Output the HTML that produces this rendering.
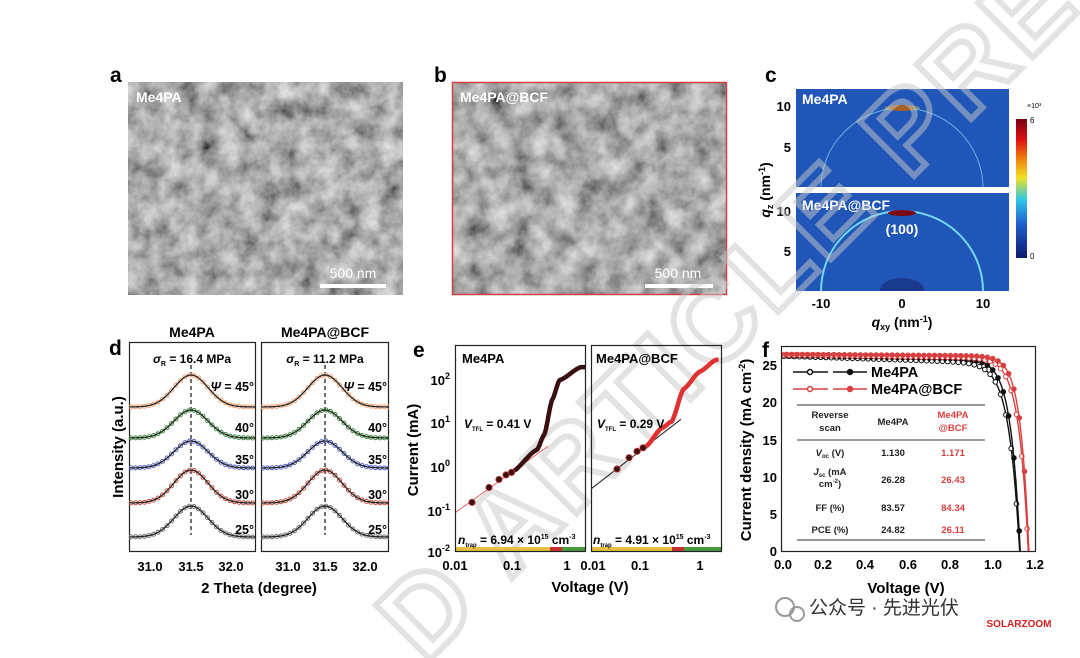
<!DOCTYPE html>
<html><head><meta charset="utf-8">
<style>
html,body{margin:0;padding:0;background:#fff;}
svg{display:block;font-family:"Liberation Sans",Arial,sans-serif;}
.b{font-weight:bold;}
</style></head>
<body>
<svg id="s" width="1080" height="658" viewBox="0 0 1080 658" xmlns="http://www.w3.org/2000/svg">
<defs>
<filter id="sem1" x="0" y="0" width="100%" height="100%">
<feTurbulence type="fractalNoise" baseFrequency="0.05" numOctaves="5" seed="4"/>
<feColorMatrix type="matrix" values="0.9 0 0 0 -0.03  0.9 0 0 0 -0.03  0.9 0 0 0 -0.03  0 0 0 0 1"/>
</filter>
<filter id="sem2" x="0" y="0" width="100%" height="100%">
<feTurbulence type="fractalNoise" baseFrequency="0.045" numOctaves="5" seed="9"/>
<feColorMatrix type="matrix" values="0.9 0 0 0 -0.04  0.9 0 0 0 -0.04  0.9 0 0 0 -0.04  0 0 0 0 1"/>
</filter>
<linearGradient id="cb" x1="0" y1="0" x2="0" y2="1">
<stop offset="0" stop-color="#7a0010"/><stop offset="0.15" stop-color="#e01010"/>
<stop offset="0.3" stop-color="#f08a10"/><stop offset="0.42" stop-color="#f0e020"/>
<stop offset="0.58" stop-color="#30c8e8"/><stop offset="0.75" stop-color="#2060d0"/>
<stop offset="1" stop-color="#101a70"/>
</linearGradient>
<clipPath id="cd1"><rect x="129" y="342" width="127" height="210"/></clipPath>
<clipPath id="cd2"><rect x="261" y="342" width="128" height="210"/></clipPath>
<clipPath id="ce1"><rect x="455" y="345" width="131" height="207"/></clipPath>
<clipPath id="ce2"><rect x="591" y="345" width="131" height="207"/></clipPath>
<clipPath id="cf"><rect x="781" y="340" width="255" height="211"/></clipPath>
<clipPath id="cc1"><rect x="796" y="89" width="213" height="98"/></clipPath>
<clipPath id="cc2"><rect x="796" y="193" width="213" height="98"/></clipPath>
</defs>

<!-- panel a -->
<text x="110" y="82" font-size="21" class="b">a</text>
<rect x="128" y="82" width="275" height="213" fill="#6a6a6a" filter="url(#sem1)"/>
<text x="136" y="102" font-size="14" class="b" fill="#fff">Me4PA</text>
<line x1="320" y1="286" x2="386" y2="286" stroke="#fff" stroke-width="4"/>
<text x="353" y="278" font-size="14" fill="#fff" text-anchor="middle">500 nm</text>

<!-- panel b -->
<text x="434" y="82" font-size="21" class="b">b</text>
<rect x="452" y="82" width="275" height="213" fill="#6a6a6a" filter="url(#sem2)"/>
<rect x="452.5" y="82.5" width="274" height="212" fill="none" stroke="#d04040" stroke-width="1.5"/>
<text x="460" y="102" font-size="14" class="b" fill="#fff">Me4PA@BCF</text>
<line x1="645" y1="286" x2="713" y2="286" stroke="#fff" stroke-width="4"/>
<text x="678" y="278" font-size="14" fill="#fff" text-anchor="middle">500 nm</text>

<!-- panel c -->
<text x="765" y="82" font-size="21" class="b">c</text>
<rect x="796" y="89" width="213" height="98" fill="#2056b8"/>
<rect x="796" y="193" width="213" height="98" fill="#2056b8"/>
<g clip-path="url(#cc1)">
<ellipse cx="902" cy="188" rx="81" ry="80" fill="none" stroke="#7fc8f0" stroke-width="1" opacity="0.8"/>
<ellipse cx="902" cy="108" rx="13" ry="3" fill="#7a0a10"/>
<ellipse cx="902" cy="108" rx="18" ry="3" fill="#e8e040" opacity="0.4"/>
</g>
<g clip-path="url(#cc2)">
<ellipse cx="902" cy="291" rx="81" ry="80" fill="none" stroke="#70d8f0" stroke-width="2"/>
<ellipse cx="902" cy="213" rx="14" ry="3" fill="#7a0a10"/>
<ellipse cx="902" cy="290" rx="22" ry="12" fill="#1a3a90"/>
</g>
<text x="802" y="104" font-size="14" class="b" fill="#fff">Me4PA</text>
<text x="802" y="210" font-size="14" class="b" fill="#fff">Me4PA@BCF</text>
<text x="902" y="234" font-size="14" class="b" fill="#fff" text-anchor="middle">(100)</text>
<g font-size="13" class="b" text-anchor="end">
<text x="791" y="111">10</text><text x="791" y="152">5</text>
<text x="791" y="216">10</text><text x="791" y="256">5</text>
</g>
<g font-size="13" class="b" text-anchor="middle">
<text x="821" y="308">-10</text><text x="902" y="308">0</text><text x="983" y="308">10</text>
</g>
<text x="902" y="327" font-size="14" class="b" text-anchor="middle"><tspan font-style="italic">q</tspan><tspan font-size="9" dy="3">xy</tspan><tspan dy="-3"> (nm</tspan><tspan font-size="9" dy="-5">-1</tspan><tspan dy="5">)</tspan></text>
<text transform="translate(770,190) rotate(-90)" font-size="14" class="b" text-anchor="middle"><tspan font-style="italic">q</tspan><tspan font-size="9" dy="3">z</tspan><tspan dy="-3"> (nm</tspan><tspan font-size="9" dy="-5">-1</tspan><tspan dy="5">)</tspan></text>
<rect x="1016" y="119" width="11" height="139" fill="url(#cb)"/>
<text x="1027" y="108" font-size="7">×10³</text>
<text x="1030" y="123" font-size="8">6</text>
<text x="1030" y="259" font-size="8">0</text>

<!-- watermark -->
<g opacity="0.5">
<text x="0" y="0" transform="translate(425,665) rotate(-45)" font-size="112" fill="none" stroke="#c8c8c8" stroke-width="6" class="b" letter-spacing="6">D ARTICLE PREVIEW</text>
</g>

<!-- panel d -->
<text x="109" y="355" font-size="21" class="b">d</text>
<text x="192" y="337" font-size="14" class="b" text-anchor="middle">Me4PA</text>
<text x="325" y="337" font-size="14" class="b" text-anchor="middle">Me4PA@BCF</text>
<rect x="129.5" y="342.5" width="126" height="209" fill="#fff" stroke="#222" stroke-width="1.2"/>
<rect x="261.5" y="342.5" width="127" height="209" fill="#fff" stroke="#222" stroke-width="1.2"/>
<g id="dcurves"></g>
<g font-size="12" class="b">
<text x="192" y="363" text-anchor="middle"><tspan font-style="italic">σ</tspan><tspan font-size="7" dy="3">R</tspan><tspan dy="-3"> = 16.4 MPa</tspan></text>
<text x="325" y="363" text-anchor="middle"><tspan font-style="italic">σ</tspan><tspan font-size="7" dy="3">R</tspan><tspan dy="-3"> = 11.2 MPa</tspan></text>
</g>
<g font-size="12.5" class="b" text-anchor="end">
<text x="254" y="391"><tspan font-style="italic">Ψ</tspan> = 45°</text>
<text x="254" y="432">40°</text><text x="254" y="464">35°</text><text x="254" y="499">30°</text><text x="254" y="534">25°</text>
<text x="387" y="391"><tspan font-style="italic">Ψ</tspan> = 45°</text>
<text x="387" y="432">40°</text><text x="387" y="464">35°</text><text x="387" y="499">30°</text><text x="387" y="534">25°</text>
</g>
<g font-size="13" class="b" text-anchor="middle">
<text x="150" y="571">31.0</text><text x="191" y="571">31.5</text><text x="231" y="571">32.0</text>
<text x="288" y="571">31.0</text><text x="325" y="571">31.5</text><text x="365" y="571">32.0</text>
</g>
<text x="259" y="593" font-size="15" class="b" text-anchor="middle">2 Theta (degree)</text>
<text transform="translate(123,447) rotate(-90)" font-size="15" class="b" text-anchor="middle">Intensity (a.u.)</text>

<!-- panel e -->
<text x="413" y="357" font-size="21" class="b">e</text>
<g id="ecurves"></g>
<rect x="455.5" y="345.5" width="130" height="206" fill="none" stroke="#222" stroke-width="1.2"/>
<rect x="591.5" y="345.5" width="130" height="206" fill="none" stroke="#222" stroke-width="1.2"/>
<text x="462" y="363" font-size="13" class="b">Me4PA</text>
<text x="596" y="363" font-size="13" class="b">Me4PA@BCF</text>
<g font-size="12" class="b">
<text x="464" y="428"><tspan font-style="italic">V</tspan><tspan font-size="6" dy="3">TFL</tspan><tspan dy="-3"> = 0.41 V</tspan></text>
<text x="597" y="428"><tspan font-style="italic">V</tspan><tspan font-size="6" dy="3">TFL</tspan><tspan dy="-3"> = 0.29 V</tspan></text>
<text x="458" y="544"><tspan font-style="italic">n</tspan><tspan font-size="6" dy="3">trap</tspan><tspan dy="-3"> = 6.94 × 10</tspan><tspan font-size="7" dy="-5">15</tspan><tspan dy="5"> cm</tspan><tspan font-size="7" dy="-5">-3</tspan></text>
<text x="593" y="544"><tspan font-style="italic">n</tspan><tspan font-size="6" dy="3">trap</tspan><tspan dy="-3"> = 4.91 × 10</tspan><tspan font-size="7" dy="-5">15</tspan><tspan dy="5"> cm</tspan><tspan font-size="7" dy="-5">-3</tspan></text>
</g>
<g font-size="13" class="b" text-anchor="end">
<text x="450" y="385">10<tspan font-size="9" dy="-6">2</tspan></text>
<text x="450" y="428">10<tspan font-size="9" dy="-6">1</tspan></text>
<text x="450" y="472">10<tspan font-size="9" dy="-6">0</tspan></text>
<text x="450" y="516">10<tspan font-size="9" dy="-6">-1</tspan></text>
<text x="450" y="557">10<tspan font-size="9" dy="-6">-2</tspan></text>
</g>
<g font-size="13" class="b" text-anchor="middle">
<text x="455" y="570">0.01</text><text x="512" y="570">0.1</text><text x="567" y="570">1</text>
<text x="593" y="570">0.01</text><text x="640" y="570">0.1</text><text x="700" y="570">1</text>
</g>
<text x="590" y="592" font-size="15" class="b" text-anchor="middle">Voltage (V)</text>
<text transform="translate(418,450) rotate(-90)" font-size="15" class="b" text-anchor="middle">Current (mA)</text>

<!-- panel f -->
<text x="762" y="357" font-size="21" class="b">f</text>
<g id="fcurves"></g>
<rect x="781.5" y="346.5" width="254" height="205" fill="none" stroke="#222" stroke-width="1.2"/>
<g font-size="13" class="b" text-anchor="end">
<text x="777" y="370">25</text><text x="777" y="407">20</text><text x="777" y="445">15</text>
<text x="777" y="482">10</text><text x="777" y="519">5</text><text x="777" y="556">0</text>
</g>
<g font-size="13" class="b" text-anchor="middle">
<text x="783" y="569">0.0</text><text x="823" y="569">0.2</text><text x="865" y="569">0.4</text>
<text x="908" y="569">0.6</text><text x="950" y="569">0.8</text><text x="993" y="569">1.0</text><text x="1035" y="569">1.2</text>
</g>
<text x="906" y="593" font-size="15" class="b" text-anchor="middle">Voltage (V)</text>
<text transform="translate(751,450) rotate(-90)" font-size="15" class="b" text-anchor="middle">Current density (mA cm<tspan font-size="9" dy="-6">-2</tspan><tspan dy="6">)</tspan></text>
<g stroke-width="1.5">
<line x1="793" y1="372" x2="828" y2="372" stroke="#111"/><circle cx="810" cy="372" r="2.5" fill="#fff" stroke="#111"/>
<line x1="833" y1="372" x2="867" y2="372" stroke="#111"/><circle cx="850" cy="372" r="2.5" fill="#111" stroke="#111"/>
<line x1="793" y1="389" x2="828" y2="389" stroke="#d84040"/><circle cx="810" cy="389" r="2.5" fill="#fff" stroke="#d84040"/>
<line x1="833" y1="389" x2="867" y2="389" stroke="#d84040"/><circle cx="850" cy="389" r="2.5" fill="#d84040" stroke="#d84040"/>
</g>
<text x="871" y="377" font-size="14.5" class="b">Me4PA</text>
<text x="871" y="394" font-size="14.5" class="b">Me4PA@BCF</text>
<g stroke="#333" stroke-width="1">
<line x1="797" y1="405" x2="985" y2="405"/><line x1="797" y1="440" x2="985" y2="440"/><line x1="797" y1="540" x2="985" y2="540"/>
</g>
<g font-size="9.5" class="b" text-anchor="middle" fill="#222">
<text x="830" y="418">Reverse</text><text x="830" y="431">scan</text>
<text x="893" y="425">Me4PA</text>
<text x="953" y="418" fill="#d84040">Me4PA</text><text x="953" y="431" fill="#d84040">@BCF</text>
<text x="830" y="456"><tspan font-style="italic">V</tspan><tspan font-size="6" dy="2">oc</tspan><tspan dy="-2"> (V)</tspan></text>
<text x="893" y="456">1.130</text><text x="953" y="456" fill="#d84040">1.171</text>
<text x="830" y="475"><tspan font-style="italic">J</tspan><tspan font-size="6" dy="2">sc</tspan><tspan dy="-2"> (mA</tspan></text>
<text x="830" y="487">cm<tspan font-size="6" dy="-4">-2</tspan><tspan dy="4">)</tspan></text>
<text x="893" y="483">26.28</text><text x="953" y="483" fill="#d84040">26.43</text>
<text x="830" y="511">FF (%)</text><text x="893" y="511">83.57</text><text x="953" y="511" fill="#d84040">84.34</text>
<text x="830" y="533">PCE (%)</text><text x="893" y="533">24.82</text><text x="953" y="533" fill="#d84040">26.11</text>
</g>

<!-- logo -->
<g>
<circle cx="785" cy="607" r="9" fill="none" stroke="#999" stroke-width="2"/>
<circle cx="797" cy="614" r="7" fill="none" stroke="#999" stroke-width="2"/>
<text x="809" y="614" font-size="19" fill="#333" font-family="'Liberation Sans','Noto Sans CJK SC',sans-serif">公众号 · 先进光伏</text>
<text x="1019" y="627" font-size="10" fill="#d02020" class="b" text-anchor="middle">SOLARZOOM</text>
</g>
</svg>
<script>
var NS="http://www.w3.org/2000/svg";
function el(p,t,a){var e=document.createElementNS(NS,t);for(var k in a)e.setAttribute(k,a[k]);p.appendChild(e);return e;}
(function(){
var g=document.getElementById('dcurves');
var rows=[[407,32,'#f0a070'],[438,28,'#3f8f3f'],[468,27,'#5865c8'],[503,33,'#c85040'],[537,31,'#777']];
var panels=[[129,256,191,'cd1'],[261,389,325,'cd2']];
panels.forEach(function(P){
var gg=el(g,'g',{'clip-path':'url(#'+P[3]+')'});
el(gg,'line',{x1:P[2],y1:365,x2:P[2],y2:535,stroke:'#111','stroke-width':1.2,'stroke-dasharray':'4,3'});
rows.forEach(function(r){
var d='';
for(var x=P[0];x<=P[1];x+=1){var y=r[0]-r[1]*Math.exp(-Math.pow((x-P[2])/17,2)/2);d+=(d?'L':'M')+x+','+y.toFixed(1);}
for(var x=P[0]+2;x<=P[1];x+=4.5){var y=r[0]-r[1]*Math.exp(-Math.pow((x-P[2])/17,2)/2);el(gg,'circle',{cx:x,cy:y.toFixed(1),r:2,fill:'none',stroke:r[2],'stroke-width':1});}
el(gg,'path',{d:d,fill:'none',stroke:'#222','stroke-width':1.3});
});
});
})();
(function(){
var g=document.getElementById('ecurves');
function interp(pts,x){for(var i=0;i<pts.length-1;i++){if(x<=pts[i+1][0]){var t=(x-pts[i][0])/(pts[i+1][0]-pts[i][0]);var s=t*t*(3-2*t);s=0.5*t+0.5*s;return pts[i][1]+(pts[i+1][1]-pts[i][1])*s;}}return pts[pts.length-1][1];}
function draw(x0,dec,clip,pts,col,lw,start,dots,bars,fitc){
var gg=el(g,'g',{'clip-path':'url(#'+clip+')'});
var X=function(l){return x0+(l+2)*dec;},Y=function(l){return 552-(l+2)*43.5;};
el(gg,'rect',{x:x0,y:547,width:bars[0]*1,height:6,fill:'#e8c040'});
el(gg,'rect',{x:x0+bars[0],y:547,width:bars[1],height:6,fill:'#c83030'});
el(gg,'rect',{x:x0+bars[0]+bars[1],y:547,width:200,height:6,fill:'#4a9a40'});
el(gg,'line',{x1:X(-2),y1:Y(pts[0][1]),x2:X(-0.35),y2:Y(pts[0][1]+1.65*(pts[1][1]-pts[0][1])),stroke:fitc,'stroke-width':1});
var d='';for(var l=start;l<=0.35;l+=0.01){d+=(d?'L':'M')+X(l).toFixed(1)+','+Y(interp(pts,l)).toFixed(1);}
el(gg,'path',{d:d,fill:'none',stroke:col,'stroke-width':lw,'stroke-linejoin':'round'});
dots.forEach(function(v){var l=Math.log10(v);el(gg,'circle',{cx:X(l),cy:Y(interp(pts,l)),r:3.2,fill:'#3a1010',stroke:'#d04040','stroke-width':0.8});});
}
draw(455,56.5,'ce1',[[-2,-1.1],[-1,-0.17],[-0.55,0.35],[-0.42,0.7],[-0.28,1.5],[-0.15,1.95],[0.23,2.25]],'#3a0f12',4.5,-0.95,[0.02,0.04,0.06,0.08,0.1],[95,12],'#e06060');
draw(591,54.5,'ce2',[[-2,-0.55],[-1,0.42],[-0.7,0.85],[-0.52,1.0],[-0.3,1.75],[0,2.15],[0.3,2.42]],'#e03030',4.5,-1,[0.03,0.05,0.07,0.09],[81,12],'#222');
})();
(function(){
var g=el(document.getElementById('fcurves'),'g',{'clip-path':'url(#cf)'});
var X=function(v){return 781+v*211.7},Y=function(j){return 551-j*7.44};
function J(v,jsc,voc,a,sl){return (jsc-sl*v)*(1-Math.exp((v-voc)/a))/(1-Math.exp(-voc/a));}
function curve(jsc,voc,a,sl,col,fill,off){
var d='';for(var v=0;v<=voc+0.01;v+=0.005){var j=Math.max(J(v,jsc,voc,a,sl),-1);d+=(d?'L':'M')+X(v).toFixed(1)+','+Y(j).toFixed(1);}
el(g,'path',{d:d,fill:'none',stroke:col,'stroke-width':1.4});
for(var v=off;v<=voc;v+=0.025){var j=J(v,jsc,voc,a,sl);if(j<0)break;el(g,'circle',{cx:X(v).toFixed(1),cy:Y(j).toFixed(1),r:2.3,fill:fill,stroke:col,'stroke-width':1});}
}
curve(26.2,1.127,0.05,0.9,'#111','#fff',0.0125);
curve(26.28,1.13,0.045,0.5,'#111','#111',0);
curve(26.35,1.168,0.045,0.4,'#d84040','#fff',0.0125);
curve(26.43,1.171,0.04,0.2,'#d84040','#d84040',0);
})();
</script>
</body></html>
